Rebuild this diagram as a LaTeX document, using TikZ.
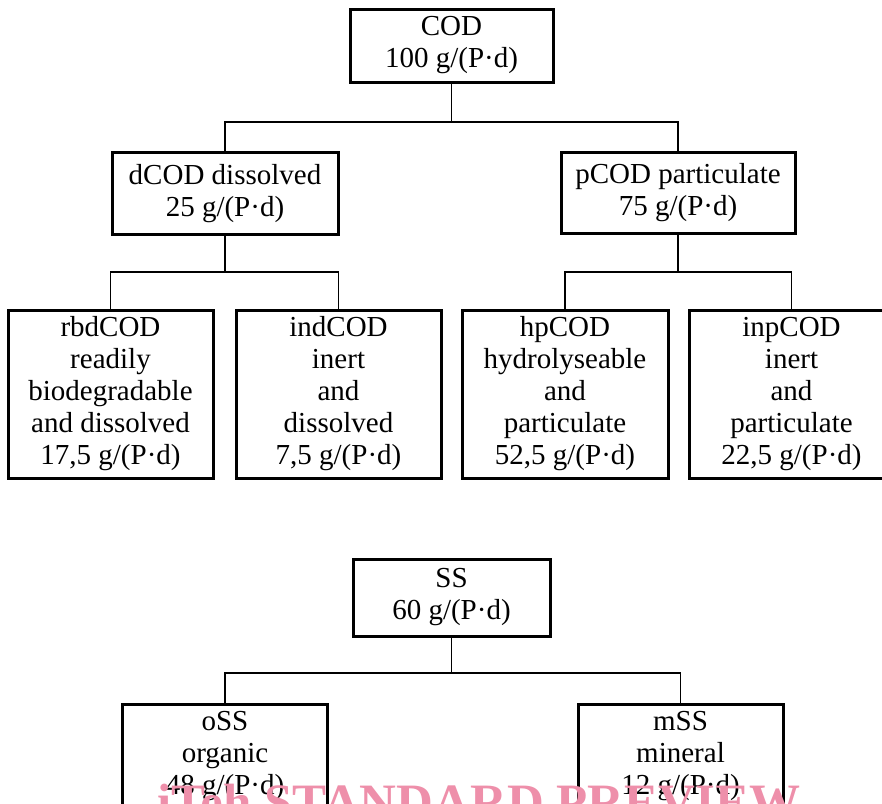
\documentclass[tikz,border=0pt]{standalone}
\usepackage{fontspec}
\setmainfont{Liberation Serif}
\usepackage{tikz}

\definecolor{wmpink}{RGB}{238,143,170}

\begin{document}
\begin{tikzpicture}[x=1pt,y=-1pt,
        box/.style={draw, line width=3pt, align=center, inner sep=0pt,
            font=\fontsize{29}{32}\selectfont},
        link/.style={line width=1.5pt},
        wmark/.style={inner sep=0pt, text=wmpink,
            font=\bfseries\fontsize{51}{51}\selectfont}]
        \useasboundingbox (0,0) rectangle (882,803);
        % COD tree, three levels
        \node[box, minimum width=203, minimum height=73] (cod) at (451.5,45.5) {COD\\100 g/(P·d)};
        \node[box, minimum width=226, minimum height=82] (dcod) at (225,193.5) {dCOD dissolved\\25 g/(P·d)};
        \node[box, minimum width=234, minimum height=81] (pcod) at (678,192.5) {pCOD particulate\\75 g/(P·d)};
        \node[box, minimum width=205, minimum height=168] (rbdcod) at (110.5,394) {rbdCOD\\readily\\biodegradable\\and dissolved\\17,5 g/(P·d)};
        \node[box, minimum width=205, minimum height=168] (indcod) at (338.5,394) {indCOD\\inert\\and\\dissolved\\7,5 g/(P·d)};
        \node[box, minimum width=206, minimum height=168] (hpcod) at (565,394) {hpCOD\\hydrolyseable\\and\\particulate\\52,5 g/(P·d)};
        \node[box, minimum width=205, minimum height=168] (inpcod) at (791.5,394) {inpCOD\\inert\\and\\particulate\\22,5 g/(P·d)};
        % SS tree
        \node[box, minimum width=197, minimum height=77] (ss) at (451.5,597.5) {SS\\60 g/(P·d)};
        \node[box, minimum width=205, minimum height=104] (oss) at (225,756) {oSS\\organic\\48 g/(P·d)};
        \node[box, minimum width=205, minimum height=104] (mss) at (680.5,756) {mSS\\mineral\\12 g/(P·d)};
        % branch points
        \coordinate (jcod) at (451.5,122);
        \coordinate (jdcod) at (225,272);
        \coordinate (jpcod) at (678,272);
        \coordinate (jss) at (451.5,673);
        % connectors
        \draw[link] (cod.south) -- (jcod);
        \draw[link] (dcod.north) |- (jcod) -| (pcod.north);
        \draw[link] (dcod.south) -- (jdcod);
        \draw[link] (rbdcod.north) |- (jdcod) -| (indcod.north);
        \draw[link] (pcod.south) -- (jpcod);
        \draw[link] (hpcod.north) |- (jpcod) -| (inpcod.north);
        \draw[link] (ss.south) -- (jss);
        \draw[link] (oss.north) |- (jss) -| (mss.north);
        % watermark over the bottom edge
        \node[wmark, anchor=base west] (wm) at (157,819) {iTeh STANDARD PREVIEW};
    \end{tikzpicture}
\end{document}
